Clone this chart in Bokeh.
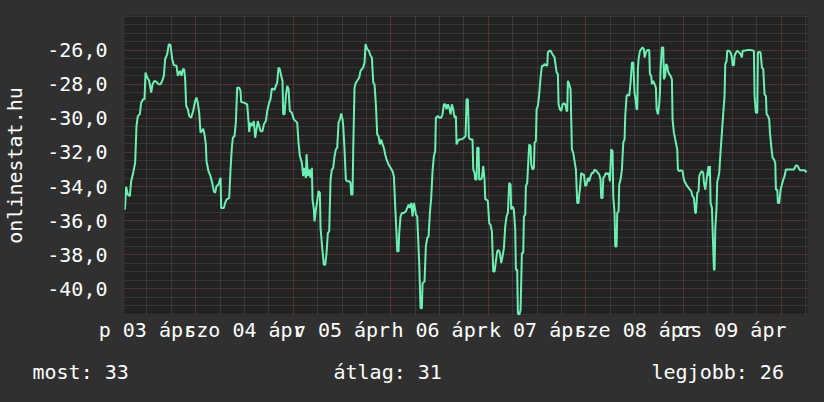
import numpy as np
from bokeh.plotting import figure
from bokeh.layouts import column
from bokeh.models import Range1d, FixedTicker, AllLabels, GlobalInlineStyleSheet
from bokeh.core.properties import value
from bokeh.embed import file_html
from bokeh.resources import INLINE

# time in hours since 2015-04-03 00:00, value = negative rank (onlinestat.hu)
HOURS = [
    6.60, 6.91, 7.32, 7.81, 8.14, 8.63, 9.12, 9.45, 9.78, 10.27, 10.60, 11.09, 11.42, 11.67,
    12.08, 12.57, 13.06, 13.39, 13.88, 14.37, 14.86, 15.36, 15.77, 16.18, 16.50, 17.00, 17.41,
    17.82, 18.23, 18.64, 19.29, 19.62, 20.11, 20.52, 20.85, 21.18, 21.42, 21.67, 22.08, 22.41,
    22.90, 23.39, 23.88, 24.21, 24.54, 24.87, 25.20, 25.52, 25.85, 26.18, 26.51, 26.67, 27.16,
    27.66, 28.07, 28.48, 28.80, 29.13, 29.62, 30.12, 30.28, 30.94, 31.26, 31.59, 32.25, 32.58,
    32.90, 33.15, 33.56, 33.89, 34.22, 34.71, 35.04, 35.20, 35.86, 36.68, 37.00, 37.17, 37.50,
    37.91, 38.32, 38.64, 38.97, 39.30, 39.63, 39.96, 40.45, 40.78, 41.27, 41.60, 42.09, 42.42,
    42.74, 43.40, 43.73, 44.06, 44.38, 44.71, 45.04, 45.37, 45.53, 45.86, 46.19, 46.52, 46.85,
    47.17, 47.67, 48.16,
    48.98, 49.31, 49.64, 50.13, 50.46, 50.78, 51.11, 51.28, 51.60, 51.93, 52.26, 52.59, 52.75,
    53.08, 53.24, 53.57, 53.90, 54.23, 54.56, 54.72, 55.21, 55.54, 55.87, 56.20, 56.52, 56.85,
    57.18, 57.51, 57.84, 58.16, 58.49, 58.82, 59.15, 59.48, 59.80, 60.13, 60.30, 60.62, 60.95,
    61.28, 61.77, 62.10, 62.26, 62.59, 62.76, 63.08, 63.41, 63.74, 64.23, 64.56, 64.89, 65.22,
    65.54, 65.79, 66.20, 66.61, 67.02, 67.35, 67.68, 68.00, 68.33, 68.66, 68.99, 69.32, 69.64,
    69.97, 70.30, 70.63, 70.96, 71.45, 71.94, 72.43, 72.76, 73.09, 73.42, 73.58, 73.91, 74.07,
    74.40, 74.73, 75.22, 75.71, 76.04, 76.37, 76.70, 77.02, 77.35, 77.68, 78.01, 78.17, 78.50,
    78.66, 78.99, 79.32, 79.65, 79.81, 80.30, 80.63, 80.96, 81.29, 81.62, 81.94, 82.27, 82.60,
    82.93, 83.09, 83.58, 83.91, 84.40, 84.73, 85.06, 85.39, 85.72, 86.04, 86.37, 86.70, 87.03,
    87.36, 87.68, 88.01, 88.18, 88.50, 88.83, 89.32, 89.98, 90.39,
    90.64, 90.96, 91.21, 91.62, 92.11, 92.28, 92.60, 92.77, 93.10, 93.26, 93.59, 93.75, 94.08,
    94.41, 94.74, 95.06, 95.23, 95.56, 95.88, 96.21, 96.54, 96.87, 97.20, 97.52, 97.85, 98.18,
    98.51, 98.84, 99.16, 99.49, 99.82, 100.15, 100.48, 100.80, 101.13, 101.46, 101.62, 101.95,
    102.28, 102.61, 102.77, 103.10, 103.26, 103.59, 103.92, 104.25, 104.58, 104.74, 105.07,
    105.23, 105.56, 105.72, 106.05, 106.38, 106.54, 106.87, 107.20, 107.36, 107.69, 107.86,
    108.18, 108.51, 108.84, 109.17, 109.50, 109.82, 110.15, 110.48, 110.64, 110.97, 111.30,
    111.79, 112.28, 112.78, 113.10, 113.27, 113.60, 113.92, 114.25, 114.58, 114.91, 115.24,
    115.40, 115.56, 115.89, 116.22, 116.55, 116.88, 117.20, 117.53, 117.86, 118.19, 118.35,
    118.52, 118.84, 119.17, 119.50, 119.83, 120.16, 120.48, 120.81, 121.14, 121.47, 121.80,
    122.12, 122.62, 122.94, 123.27, 123.60, 123.76, 124.09, 124.26, 124.58, 124.91, 125.24,
    125.57, 125.90, 126.22, 126.55, 126.72, 127.04, 127.21, 127.54, 127.70, 128.03, 128.19,
    128.52, 128.85, 129.18, 129.50, 129.67, 130.00, 130.32, 130.65, 130.98, 131.31,
    131.64, 131.96, 132.21, 132.46, 132.62, 132.78, 132.95, 133.28, 133.60, 133.93, 134.26,
    134.42, 134.75, 135.08, 135.57, 135.74, 136.06, 136.23, 136.56, 136.88, 137.21, 137.38,
    137.70, 137.87, 138.03, 138.20, 138.36, 138.69, 139.02, 139.18, 139.51, 139.67, 140.00,
    140.16, 140.49, 140.82, 141.15, 141.31, 141.64, 142.13, 142.46, 142.62, 142.95, 143.28,
    143.77, 144.10, 144.43, 144.92, 145.25, 145.58, 145.90, 146.23, 146.56, 146.89, 147.05,
    147.38, 147.71, 147.87, 148.20, 148.53, 148.86, 149.02, 149.35, 149.51, 149.84, 150.17,
    150.33, 150.50, 150.66, 150.99, 151.32, 151.48, 151.64, 151.81, 152.14, 152.30, 152.46,
    152.79, 153.12, 153.45, 153.78, 154.10, 154.27, 154.60, 154.76, 155.25, 155.58, 155.91,
    156.07, 156.40, 156.56, 156.89, 157.22, 157.71, 158.04, 158.37, 158.53, 158.86, 159.68,
    160.50, 161.32, 161.48, 161.81, 162.14, 162.30, 162.63, 162.96, 163.29, 163.62, 163.94,
    164.27, 164.44, 164.76, 165.09, 165.26, 165.58, 165.91, 166.24, 166.57, 166.73, 167.06,
    167.22, 167.55, 167.88, 168.21, 168.54, 168.86, 169.19, 169.85, 170.34, 171.16, 171.65,
    171.98, 172.31, 172.64, 173.29, 173.78, 174.28,
]
RANK = [
    -35.35, -34.02, -34.47, -34.57, -33.69, -33.20, -32.61, -30.45, -29.86, -29.76, -29.08, -28.88, -28.88, -27.31,
    -27.61, -27.80, -28.49, -28.00, -27.80, -27.86, -28.00, -28.00, -27.80, -27.51, -26.53, -26.24, -25.65,
    -25.71, -26.53, -26.88, -26.92, -27.51, -27.22, -27.51, -27.12, -27.12, -27.71, -29.27, -29.47, -29.86,
    -29.96, -29.57, -28.98, -28.78, -29.12, -29.67, -30.84, -30.75, -30.61, -30.94, -31.53, -32.51, -33.10,
    -33.39, -33.78, -34.27, -34.37, -33.98, -33.88, -33.49, -35.25, -35.25, -34.96, -34.76, -34.67, -33.00,
    -31.73, -31.14, -31.04, -30.25, -28.20, -28.20, -28.39, -29.04, -29.08, -29.18, -30.16, -30.80, -30.25,
    -30.45, -30.16, -31.14, -30.65, -30.16, -30.45, -30.75, -30.75, -30.35, -30.16, -29.57, -29.08, -28.88,
    -28.25, -28.33, -28.10, -27.90, -27.02, -27.12, -27.51, -27.80, -29.76, -29.76, -28.69, -28.10, -28.29,
    -29.57, -29.67, -30.06,
    -30.25, -31.43, -32.20, -32.61, -33.39, -32.90, -33.49, -32.10, -33.39, -33.00, -33.49, -32.90, -34.76,
    -35.35, -36.04, -35.35, -34.86, -34.27, -34.37, -36.43, -37.80, -38.59, -38.59, -37.90, -36.73, -36.63,
    -33.59, -33.00, -32.90, -32.22, -31.82, -31.73, -30.25, -30.06, -29.71, -30.06, -30.45, -31.82, -33.59,
    -33.69, -33.69, -33.78, -34.47, -34.47, -31.82, -28.20, -27.90, -27.80, -27.61, -27.22, -27.12, -27.02,
    -26.73, -25.65, -25.94, -26.04, -26.33, -26.43, -27.90, -28.00, -29.18, -30.94, -31.04, -31.53, -31.24,
    -31.53, -31.73, -32.12, -32.41, -32.71, -32.90, -33.10, -33.39, -35.16, -36.82, -37.80, -37.80, -36.73,
    -35.75, -35.55, -35.55, -35.45, -35.25, -35.06, -35.25, -34.96, -35.75, -34.96, -35.35, -35.65, -35.75,
    -36.63, -38.49, -41.14, -41.14, -39.67, -39.57, -37.51, -37.02, -36.92, -35.55, -34.67, -33.10, -32.22,
    -31.92, -29.96, -29.86, -29.96, -29.96, -29.76, -29.18, -29.18, -29.47, -29.18, -29.37, -29.76, -29.18,
    -29.47, -29.96, -29.86, -31.53, -31.33, -31.24, -31.24, -31.14, -31.04,
    -28.88, -28.88, -31.14, -31.24, -31.24, -33.00, -33.20, -33.59, -33.59, -31.73, -31.73, -33.59, -33.59,
    -33.49, -32.80, -33.59, -34.76, -34.76, -34.86, -36.14, -36.24, -36.63, -38.98, -38.98, -38.39, -37.80,
    -37.71, -37.90, -38.49, -38.10, -37.61, -36.33, -35.75, -35.55, -33.78, -33.88, -35.35, -35.16,
    -35.35, -36.53, -38.88, -38.88, -41.43, -41.53, -41.24, -37.90, -37.90, -35.75, -35.65,
    -33.98, -33.78, -33.00, -31.53, -31.63, -32.71, -33.00, -32.90, -31.43, -31.33, -29.47,
    -29.27, -28.59, -27.61, -26.92, -26.92, -26.82, -26.88, -26.92, -26.14, -26.04, -26.04,
    -26.24, -26.43, -27.31, -27.41, -29.18, -29.47, -29.57, -29.18, -29.12, -29.18, -29.57,
    -29.57, -27.80, -28.00, -28.29, -31.82, -32.02, -32.51, -33.00, -34.96, -34.96, -34.47,
    -34.18, -33.20, -33.29, -33.29, -33.98, -33.88, -33.49, -33.69, -33.39, -33.20, -33.20,
    -33.00, -33.10, -33.20, -33.29, -33.59, -34.67, -34.67, -33.49, -33.39, -33.20, -33.29,
    -33.20, -33.69, -31.82, -31.92, -34.57, -35.55, -37.51, -37.51, -35.55, -35.45, -33.88,
    -33.59, -33.00, -31.43, -31.24, -29.86, -28.69, -28.59, -28.69, -27.90, -26.73,
    -26.73, -28.51, -28.88, -29.47, -29.47, -27.12, -26.53, -26.04, -25.94, -25.84, -25.94,
    -26.43, -26.14, -26.00, -26.00, -27.41, -27.51, -28.00, -27.80, -28.00, -28.20, -29.47,
    -29.76, -29.47, -29.18, -28.49, -27.12, -25.84, -25.84, -27.71, -27.51, -26.82, -26.92,
    -27.22, -27.41, -27.51, -27.71, -30.06, -30.84, -31.43, -31.82, -33.00, -33.10, -33.04,
    -33.10, -33.59, -33.78, -33.98, -34.08, -34.18, -34.27, -34.57, -34.67, -35.55, -35.55,
    -34.37, -34.27, -33.39, -33.20, -33.10, -33.20, -33.78, -34.18, -33.88, -33.29, -32.80,
    -33.39, -32.80, -34.96, -35.25, -37.71, -38.88, -38.88, -36.53, -35.16, -33.69, -33.59,
    -33.20, -31.92, -30.84, -29.67, -28.69, -26.82, -26.63, -26.04, -26.04, -26.14, -26.43,
    -26.88, -26.88, -26.33, -26.14, -26.04, -26.14, -26.24, -26.43, -26.04, -26.04, -26.00,
    -26.00, -26.04, -28.69, -29.67, -29.67, -26.14, -26.10, -26.14, -27.02, -27.12, -28.59,
    -28.69, -29.76, -29.86, -30.06, -30.84, -31.63, -32.31, -32.41, -32.61, -34.18, -34.18,
    -34.96, -34.96, -34.18, -33.88, -33.59, -33.39, -33.00, -33.00, -33.00, -33.00, -32.76,
    -32.76, -32.90, -33.04, -33.04, -33.04, -33.16,
]

DAY_LABEL_HOURS = [12, 36, 60, 84, 108, 132, 156]
DAY_LABELS = ["p 03 ápr", "szo 04 ápr", "v 05 ápr", "h 06 ápr", "k 07 ápr", "sze 08 ápr", "cs 09 ápr"]
MIDNIGHT_HOURS = [24, 48, 72, 96, 120, 144, 168]
Y_TICKS = [-40, -38, -36, -34, -32, -30, -28, -26]
Y_LABELS = ["-40,0", "-38,0", "-36,0", "-34,0", "-32,0", "-30,0", "-28,0", "-26,0"]
STATS = ["most: 33", "átlag: 31", "legjobb: 26"]
Y_TITLE = "onlinestat.hu"

X_START, X_END = 6.5, 174.5
Y_START, Y_END = -41.56, -23.97

FONT = "DejaVu Sans Mono"
BG = "#303030"
PLOT_BG = "#222222"
LINE = "#6cefb2"
MAJOR = "#6a2e2e"
MINOR = "#4c4c4c"

W = 824
H_MAIN, H_STATS = 350, 52
FL, FT, FW, FH = 124, 15, 683, 300   # frame left/top/width/height in canvas px

p = figure(width=W, height=H_MAIN, output_backend="svg", toolbar_location=None,
           x_range=Range1d(X_START, X_END), y_range=Range1d(Y_START, Y_END),
           min_border_left=FL, min_border_right=W - FL - FW, min_border_top=FT,
           min_border_bottom=H_MAIN - FT - FH,
           background_fill_color=PLOT_BG, border_fill_color=BG, outline_line_color=None)
p.stylesheets = [GlobalInlineStyleSheet(css="html, body { background-color: #303030; }")]

# grids
p.xgrid.ticker = FixedTicker(ticks=MIDNIGHT_HOURS, minor_ticks=list(np.arange(0, 181, 6)))
p.ygrid.ticker = FixedTicker(ticks=Y_TICKS, minor_ticks=list(np.arange(-41.5, -23.9, 0.5)))
for g in (p.xgrid, p.ygrid):
    g.grid_line_color = MAJOR
    g.grid_line_dash = "1 1"
    g.grid_line_width = 1
    g.minor_grid_line_color = MINOR
    g.minor_grid_line_dash = "1 1"
    g.minor_grid_line_width = 1

# x axis
xa = p.xaxis[0]
xa.ticker = FixedTicker(ticks=DAY_LABEL_HOURS, minor_ticks=[])
xa.major_label_overrides = dict(zip(DAY_LABEL_HOURS, DAY_LABELS))
xa.major_label_policy = AllLabels()
xa.axis_line_color = None
xa.major_tick_line_color = None
xa.minor_tick_line_color = None
xa.major_tick_out = 0
xa.minor_tick_out = 0
xa.major_label_standoff = 2
xa.major_label_text_font = FONT
xa.major_label_text_font_size = "20px"
xa.major_label_text_color = "#ffffff"

# y axis
ya = p.yaxis[0]
ya.ticker = FixedTicker(ticks=Y_TICKS, minor_ticks=[])
ya.major_label_overrides = dict(zip(Y_TICKS, Y_LABELS))
ya.axis_line_color = None
ya.major_tick_line_color = None
ya.minor_tick_line_color = None
ya.major_tick_out = 0
ya.minor_tick_out = 0
ya.major_label_standoff = 17
ya.major_label_text_font = FONT
ya.major_label_text_font_size = "20px"
ya.major_label_text_color = "#ffffff"
ya.axis_label = Y_TITLE
ya.axis_label_text_font = FONT
ya.axis_label_text_font_size = "20px"
ya.axis_label_text_font_style = "normal"
ya.axis_label_text_color = "#ffffff"
ya.axis_label_standoff = 17

p.line(HOURS, RANK, line_color=LINE, line_width=2)

# legend strip below the graph: its ranges are canvas pixels of the page
stats = figure(width=W, height=H_STATS, output_backend="svg", toolbar_location=None,
               x_range=Range1d(0, W), y_range=Range1d(H_MAIN + H_STATS, H_MAIN),
               x_axis_type=None, y_axis_type=None, min_border=0,
               background_fill_color=BG, border_fill_color=BG, outline_line_color=None)
stats.text(x=[32, 333, 651], y=[371, 371, 371], text=STATS,
           text_font=value(FONT), text_font_size=value("20px"), text_color="#ffffff",
           text_align="left", text_baseline="alphabetic")

for fig in (p, stats):
    try:
        fig.frame_align = False
    except Exception:
        pass

layout = column(p, stats, spacing=0)
open("out.html", "w").write(file_html(layout, INLINE))
